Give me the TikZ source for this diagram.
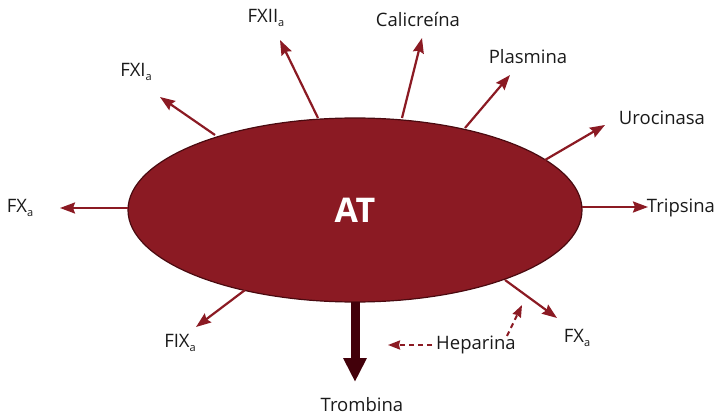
\documentclass[tikz,border=0pt]{standalone}
\usepackage{fontspec}
\setmainfont{Open Sans}
\usetikzlibrary{arrows.meta,shapes.geometric}
\definecolor{atred}{HTML}{8B1A23}
\definecolor{atedge}{HTML}{4A0A10}
\definecolor{trom}{HTML}{42000A}
\definecolor{txt}{HTML}{1A1A1A}
\tikzset{
  rel/.style={draw=atred, line width=2.2pt, -{Stealth[length=15pt,width=11pt,inset=2pt]}},
  lbl/.style={text=txt, font=\fontsize{18.5pt}{20pt}\selectfont, inner sep=0pt},
  hep/.style={draw=atred, line width=2pt, dash pattern=on 5pt off 4pt, -{Stealth[length=12pt,width=9pt,inset=1pt]}},
}
\newcommand{\sub}[1]{\raisebox{-0.35ex}{\fontsize{11pt}{12pt}\selectfont #1}}
\begin{document}
\begin{tikzpicture}[x=1pt,y=-1pt]
\useasboundingbox (0,0) rectangle (718,417);
% ellipse
\node[draw=atedge, line width=1.2pt, fill=atred, ellipse, minimum width=454pt, minimum height=184pt, inner sep=0pt] (at) at (355,210) {};
\node[text=white, font=\bfseries\fontsize{34pt}{36pt}\selectfont] (attxt) at (355,210) {AT};
% start coordinates on ellipse
\coordinate (s1) at (128,208);
\coordinate (e1) at (60,208);
\coordinate (s2) at (215,135);
\coordinate (e2) at (160,97);
\coordinate (s3) at (318,118);
\coordinate (e3) at (280,40);
\coordinate (s4) at (402,118);
\coordinate (e4) at (422,38);
\coordinate (s5) at (465,128);
\coordinate (e5) at (510,75);
\coordinate (s6) at (545,160);
\coordinate (e6) at (605,125);
\coordinate (s7) at (582,207);
\coordinate (e7) at (648,207);
\coordinate (s8) at (505,280);
\coordinate (e8) at (557,318);
\coordinate (s9) at (245,290);
\coordinate (e9) at (196,327);
\draw[rel] (s1) -- (e1);
\draw[rel] (s2) -- (e2);
\draw[rel] (s3) -- (e3);
\draw[rel] (s4) -- (e4);
\draw[rel] (s5) -- (e5);
\draw[rel] (s6) -- (e6);
\draw[rel] (s7) -- (e7);
\draw[rel] (s8) -- (e8);
\draw[rel] (s9) -- (e9);
% labels
\node[lbl] (l1) at (20,208) {FX\sub{a}};
\node[lbl] (l2) at (136,72) {FXI\sub{a}};
\node[lbl] (l3) at (266,18) {FXII\sub{a}};
\node[lbl] (l4) at (418,20) {Calicreína};
\node[lbl] (l5) at (528,57) {Plasmina};
\node[lbl] (l6) at (662,118) {Urocinasa};
\node[lbl] (l7) at (681,208) {Tripsina};
\node[lbl] (l8) at (577,338) {FX\sub{a}};
\node[lbl] (l9) at (180,343) {FIX\sub{a}};
% trombina
\coordinate (ts) at (355,302);
\coordinate (te) at (355,382);
\draw[draw=trom, line width=9pt, -{Triangle[length=24pt,width=22pt]}] (ts) -- (te);
\node[lbl] (l10) at (362,405) {Trombina};
% heparina
\node[lbl] (hep) at (476,345) {Heparina};
\coordinate (h1e) at (388,345);
\coordinate (h2s) at (507,336);
\coordinate (h2e) at (522,305);
\draw[hep] (hep.west) ++(-4pt,0) -- (h1e);
\draw[hep] (h2s) -- (h2e);
\end{tikzpicture}
\end{document}
